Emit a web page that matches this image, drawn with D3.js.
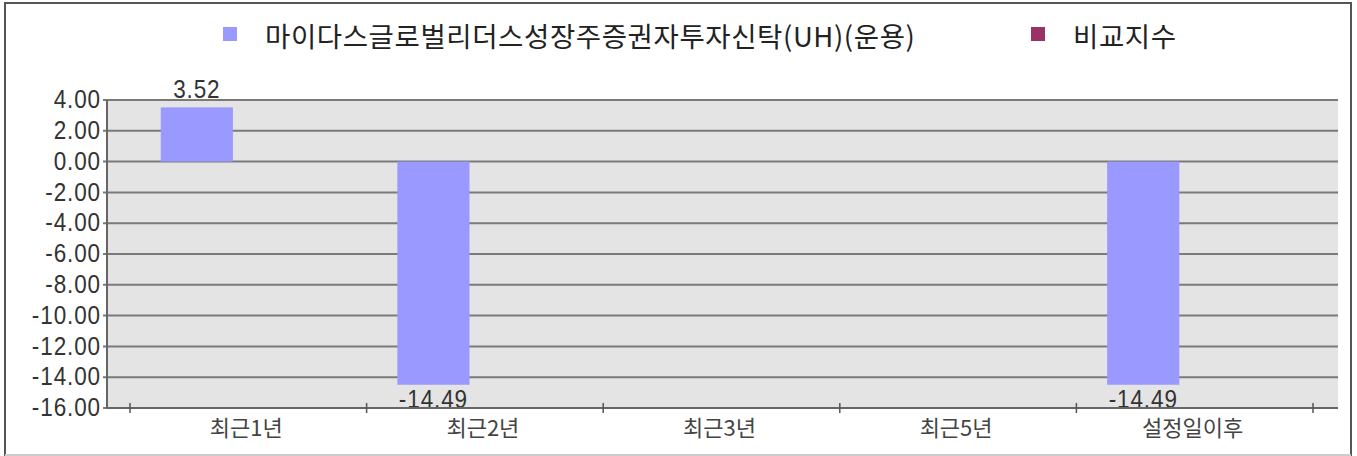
<!DOCTYPE html>
<html>
<head>
<meta charset="utf-8">
<script src="https://cdn.jsdelivr.net/npm/d3@7"></script>
<style>
  body { margin: 0; background: #fff; }
  .num { font-family: "Liberation Sans", Arial, sans-serif; font-size: 25px; fill: #333; letter-spacing: 1px; }
  .cat { font-family: "Noto Sans CJK KR", sans-serif; font-size: 22px; fill: #444; }
  .leg { font-family: "Noto Sans CJK KR", sans-serif; font-size: 27.5px; fill: #222; letter-spacing: 0.6px; }
</style>
</head>
<body>
<svg class="chart" width="1357" height="456"></svg>
<script>
// categories and series
const categories = ["최근1년", "최근2년", "최근3년", "최근5년", "설정일이후"];
const seriesNames = ["마이다스글로벌리더스성장주증권자투자신탁(UH)(운용)", "비교지수"];
const fundValues = [3.52, -14.49, null, null, -14.49];
const indexValues = [null, null, null, null, null];
const yTicks = [4, 2, 0, -2, -4, -6, -8, -10, -12, -14, -16];
const colors = ["#9999ff", "#993366"];

// plain hyphen instead of the unicode minus
const fmt = d3.formatLocale({ decimal: ".", thousands: ",", grouping: [3], currency: ["", ""], minus: "-" }).format(".2f");
const squeeze = 0.9;

const svg = d3.select(".chart");

// outer frame
svg.append("rect")
    .attr("x", 5).attr("y", 3)
    .attr("width", 1346).attr("height", 452)
    .attr("fill", "none")
    .attr("stroke", "#555")
    .attr("stroke-width", 2);
svg.append("line")
    .attr("x1", 5).attr("x2", 1351).attr("y1", 455).attr("y2", 455)
    .attr("stroke", "#ccc").attr("stroke-width", 2);

const plot = { left: 107, right: 1338, top: 100, bottom: 408 };

const y = d3.scaleLinear()
    .domain([-16, 4])
    .range([plot.bottom, plot.top]);

const x = d3.scaleBand()
    .domain(categories)
    .range([130, 1313])
    .padding(0);

const bw = x.bandwidth();
const x1 = d3.scaleBand()
    .domain(seriesNames)
    .range([bw * 0.13, bw * 0.74]);

// plot background
svg.append("rect")
    .attr("x", plot.left).attr("y", plot.top)
    .attr("width", plot.right - plot.left)
    .attr("height", plot.bottom - plot.top)
    .attr("fill", "#e4e4e4");

// grid lines
svg.selectAll(".grid")
    .data(yTicks)
    .enter().append("line")
    .attr("class", "grid")
    .attr("x1", plot.left - 4)
    .attr("x2", plot.right)
    .attr("y1", d => y(d))
    .attr("y2", d => y(d))
    .attr("stroke", "#7a7a7a")
    .attr("stroke-width", 2);

// y axis line
svg.append("line")
    .attr("x1", plot.left).attr("x2", plot.left)
    .attr("y1", plot.top).attr("y2", plot.bottom)
    .attr("stroke", "#666").attr("stroke-width", 2);

// y tick labels
svg.selectAll(".ylab")
    .data(yTicks)
    .enter().append("text")
    .attr("class", "num")
    .attr("transform", d => `translate(${plot.left - 6},${y(d)}) scale(${squeeze},1)`)
    .attr("dy", "0.33em")
    .attr("text-anchor", "end")
    .text(d => fmt(d));

// bars
const rows = categories.map((c, i) => ({ cat: c, vals: [fundValues[i], indexValues[i]] }));

const groups = svg.selectAll(".grp")
    .data(rows)
    .enter().append("g")
    .attr("class", "grp")
    .attr("transform", d => `translate(${x(d.cat)},0)`);

const present = d => d.vals.map((v, j) => ({ name: seriesNames[j], v: v, j: j })).filter(e => e.v != null);

groups.selectAll("rect")
    .data(present)
    .enter().append("rect")
    .attr("x", d => x1(d.name))
    .attr("width", x1.bandwidth())
    .attr("y", d => y(Math.max(0, d.v)))
    .attr("height", d => Math.abs(y(d.v) - y(0)))
    .attr("fill", d => colors[d.j]);

groups.selectAll(".val")
    .data(present)
    .enter().append("text")
    .attr("class", "num val")
    .attr("transform", d => `translate(${x1(d.name) + x1.bandwidth() / 2},${d.v >= 0 ? y(d.v) - 9 : y(d.v) + 23}) scale(${squeeze},1)`)
    .attr("text-anchor", "middle")
    .text(d => fmt(d.v));

// x axis
svg.append("line")
    .attr("x1", plot.left).attr("x2", plot.right)
    .attr("y1", plot.bottom).attr("y2", plot.bottom)
    .attr("stroke", "#666").attr("stroke-width", 2);

const bounds = categories.map(c => x(c)).concat([x(categories[categories.length - 1]) + bw]);
svg.selectAll(".xtick")
    .data(bounds)
    .enter().append("line")
    .attr("x1", d => d).attr("x2", d => d)
    .attr("y1", plot.bottom - 5).attr("y2", plot.bottom + 5)
    .attr("stroke", "#555").attr("stroke-width", 1.5);

svg.selectAll(".xlab")
    .data(categories)
    .enter().append("text")
    .attr("class", "cat")
    .attr("x", d => x(d) + bw / 2 - 2)
    .attr("y", plot.bottom + 28)
    .attr("text-anchor", "middle")
    .text(d => d);

// legend
const legendX = [223, 1031];
const legend = svg.selectAll(".legend")
    .data(seriesNames)
    .enter().append("g")
    .attr("class", "legend")
    .attr("transform", (d, i) => `translate(${legendX[i]},34)`);

legend.append("rect")
    .attr("x", 0).attr("y", -7)
    .attr("width", 14).attr("height", 14)
    .attr("fill", (d, i) => colors[i]);

legend.append("text")
    .attr("class", "leg")
    .attr("x", 42)
    .attr("y", 1)
    .attr("dominant-baseline", "central")
    .text(d => d);
</script>
</body>
</html>
